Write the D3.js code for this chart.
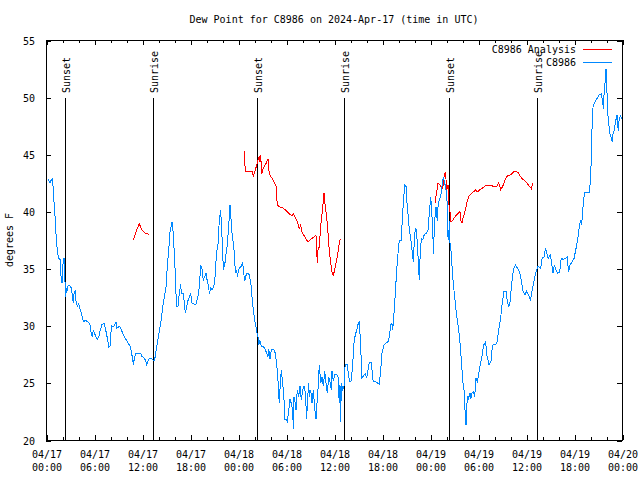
<!DOCTYPE html>
<html><head><meta charset="utf-8">
<script src="https://cdn.jsdelivr.net/npm/d3@7"></script>
<style>
body{margin:0;background:#fff}
svg{display:block}
text{font-family:"DejaVu Sans Mono","Liberation Mono",monospace;font-size:10px;fill:#000}
</style>
</head><body><svg id="c" width="640" height="480"></svg>
<script>
// hours since 2024-04-17 00:00 UTC
const obsHours = [0.25,0.5,0.62,0.84,0.91,1.09,1.21,1.34,1.46,1.59,1.75,1.88,2.0,2.09,2.25,2.34,2.41,2.5,2.59,2.75,3.0,3.16,3.34,3.41,3.5,3.66,3.75,3.91,4.09,4.25,4.41,4.59,4.75,4.91,5.09,5.34,5.5,5.66,5.79,5.91,6.09,6.25,6.41,6.59,6.75,7.0,7.25,7.41,7.59,7.75,7.84,8.0,8.09,8.16,8.41,8.59,8.75,8.84,9.09,9.25,9.5,9.75,10.0,10.25,10.5,10.66,10.84,10.91,11.09,11.25,11.59,11.84,12.0,12.25,12.41,12.59,12.75,12.91,13.25,13.5,13.66,13.84,14.0,14.16,14.34,14.5,14.66,14.84,15.0,15.16,15.34,15.5,15.66,15.75,15.84,16.0,16.16,16.25,16.34,16.5,16.66,16.84,16.91,17.16,17.34,17.41,17.59,17.75,17.91,18.09,18.25,18.5,18.75,19.0,19.16,19.34,19.5,19.66,19.84,20.0,20.16,20.34,20.41,20.59,20.75,20.91,21.09,21.16,21.34,21.5,21.66,21.84,21.91,22.09,22.16,22.34,22.5,22.59,22.66,22.84,23.0,23.09,23.25,23.41,23.59,23.66,23.84,23.91,24.09,24.25,24.41,24.59,24.66,24.84,25.0,25.16,25.34,25.5,25.66,25.75,25.91,26.09,26.25,26.34,26.5,26.59,26.75,26.91,27.16,27.34,27.59,27.75,27.84,28.0,28.16,28.34,28.5,28.66,28.84,29.0,29.16,29.25,29.41,29.59,29.75,29.84,30.09,30.16,30.34,30.5,30.66,30.84,30.91,31.0,31.16,31.25,31.41,31.59,31.75,31.91,32.09,32.25,32.41,32.59,32.66,32.84,32.91,33.09,33.25,33.41,33.59,33.75,33.84,34.0,34.16,34.34,34.5,34.66,34.84,35.0,35.16,35.34,35.5,35.66,35.75,35.91,36.09,36.34,36.5,36.66,36.75,36.84,36.91,37.09,37.25,37.34,37.41,37.66,37.84,38.0,38.16,38.34,38.5,38.66,38.84,39.0,39.16,39.25,39.41,39.5,39.75,39.91,40.09,40.25,40.41,40.66,40.84,40.91,41.16,41.41,41.66,41.84,42.0,42.25,42.5,42.75,42.91,43.09,43.25,43.34,43.5,43.66,43.84,44.0,44.09,44.25,44.41,44.5,44.66,44.84,45.0,45.09,45.25,45.41,45.59,45.75,45.91,46.09,46.25,46.41,46.59,46.66,46.75,46.91,47.09,47.25,47.41,47.59,47.75,47.91,48.09,48.25,48.34,48.41,48.59,48.75,48.91,49.0,49.16,49.34,49.5,49.66,49.84,50.0,50.16,50.25,50.34,50.41,50.5,50.59,50.75,50.91,51.09,51.25,51.41,51.59,51.75,51.91,52.09,52.25,52.41,52.5,52.59,52.66,52.75,53.0,53.09,53.25,53.41,53.59,53.75,53.91,54.09,54.28,54.52,54.7,54.95,55.12,55.38,55.64,55.8,56.24,56.4,56.58,56.82,57.0,57.25,57.5,57.68,57.85,58.01,58.19,58.44,58.7,58.95,59.21,59.38,59.64,59.89,60.06,60.31,60.56,60.74,60.99,61.25,61.5,61.84,62.01,62.26,62.44,62.61,62.78,63.04,63.2,63.38,63.55,63.71,63.98,64.22,64.4,64.65,64.9,65.16,65.32,65.5,65.75,66.01,66.18,66.35,66.52,66.69,66.86,66.95,67.12,67.29,67.55,67.96,68.14,68.22,68.39,68.65,68.9,69.16,69.41,69.59,69.66,69.75,69.92,70.0,70.09,70.18,70.35,70.51,70.69,70.78,70.86,71.02,71.2,71.38,71.54,71.62,71.79,71.96];
const obsValues = [42.8,42.5,42.7,42.9,41.6,40.1,38.4,37.2,36.3,35.9,35.8,34.3,33.7,35.2,35.9,35.2,32.5,33.3,32.9,33.5,33.5,33.3,32.4,32.0,32.8,33.1,32.2,31.7,31.9,31.5,31.1,30.6,30.3,30.5,30.4,30.3,30.1,29.3,29.0,29.6,29.3,29.0,28.8,29.0,29.5,30.1,30.2,29.8,29.2,28.6,28.1,28.2,28.8,30.0,29.9,30.1,30.3,29.8,29.9,29.9,29.5,29.1,28.8,28.5,28.2,27.8,27.0,26.6,27.3,27.6,27.6,27.6,27.3,27.2,27.0,26.6,26.9,27.1,27.1,26.9,27.3,28.2,28.8,29.5,30.2,31.1,32.0,32.7,33.4,35.2,36.6,38.2,38.8,39.1,38.7,36.8,34.6,32.8,31.7,31.7,32.8,33.6,32.8,32.8,31.7,31.1,31.7,32.2,32.5,32.8,32.0,31.9,31.9,32.6,33.4,35.3,35.0,34.0,34.3,34.6,33.9,33.4,32.8,33.3,33.1,33.4,33.7,34.7,36.5,37.1,39.2,40.1,39.0,36.6,34.9,35.3,36.3,36.6,37.2,38.7,40.6,39.7,38.1,37.2,36.0,34.6,34.9,34.3,34.9,35.1,35.2,35.6,34.9,33.9,34.4,34.6,34.6,34.1,33.4,32.5,31.4,30.5,29.9,29.5,29.0,28.3,28.7,28.2,28.2,28.0,27.6,27.3,28.0,27.1,27.9,27.9,27.9,27.6,26.6,25.2,23.2,24.4,26.1,25.0,23.5,21.8,21.8,21.5,22.6,23.6,23.2,22.6,21.0,23.8,23.2,22.6,24.4,23.8,24.7,23.5,24.4,24.7,24.2,21.8,23.2,25.0,23.8,24.4,23.2,24.4,22.8,21.8,22.9,24.4,26.6,25.0,25.5,24.7,26.0,25.0,24.1,25.5,25.1,24.4,26.0,25.2,25.7,25.7,25.5,23.2,24.8,21.6,25.0,24.4,24.7,26.1,26.6,26.6,25.5,25.1,25.2,26.7,28.5,29.2,29.6,30.1,30.4,29.3,27.0,25.4,25.7,25.8,25.4,26.1,26.8,26.8,25.5,25.1,25.1,25.0,24.9,26.1,27.6,28.3,28.5,28.6,29.0,30.1,30.2,29.6,31.1,32.8,34.9,36.3,37.2,37.5,37.5,38.8,40.7,42.3,42.2,41.0,39.8,38.4,37.6,36.6,35.6,38.1,38.5,37.4,34.9,34.0,35.8,37.6,37.5,37.9,38.1,38.1,38.4,39.8,41.3,39.5,39.1,36.3,39.2,40.4,39.2,40.4,41.0,41.3,42.2,43.0,42.5,41.9,40.7,37.8,37.5,39.2,37.2,36.9,35.2,33.7,32.5,31.4,30.5,29.6,28.5,27.0,25.2,24.4,22.2,21.3,22.6,23.8,23.5,24.1,23.6,24.1,24.2,23.8,25.4,25.1,25.8,26.6,27.4,28.3,28.6,27.4,26.6,26.9,28.3,28.4,28.6,29.6,30.6,31.8,33.0,33.0,32.1,31.7,32.1,33.6,35.0,35.3,35.0,34.7,34.1,33.0,32.7,33.0,32.7,32.2,33.0,33.9,34.7,35.2,35.0,35.9,36.0,36.8,36.3,35.9,36.2,35.5,34.6,35.3,34.9,34.6,34.7,35.9,35.8,35.9,36.0,34.7,35.3,35.6,35.9,36.5,37.1,37.8,38.8,39.2,38.8,40.3,41.6,41.7,41.7,44.1,46.7,49.3,49.6,49.9,50.2,50.3,49.6,49.0,50.2,51.6,52.5,51.4,48.9,47.6,46.7,46.4,46.1,46.7,47.1,47.9,48.4,47.0,47.9,48.4,48.1];
// analysis series, null = gap
const anaHours = [10.91,11.34,11.66,12.0,12.41,12.91,null,24.79,24.91,25.75,25.91,26.16,26.5,26.66,26.75,26.84,26.96,27.16,27.5,27.75,27.91,28.16,28.5,28.75,28.91,29.16,29.59,30.0,30.41,30.75,30.91,31.16,31.41,31.66,31.84,32.0,32.25,32.5,32.75,33.0,33.34,33.75,33.91,34.0,34.16,34.34,34.59,34.75,34.91,35.09,35.25,35.41,35.59,35.75,35.91,36.09,36.25,36.41,36.59,36.75,36.91,null,48.66,48.75,49.0,49.25,49.59,49.75,49.91,50.0,50.09,50.25,50.34,50.5,50.59,50.84,51.09,51.34,51.59,51.75,51.84,52.0,52.16,52.41,52.66,52.84,53.09,53.41,53.75,53.91,54.25,54.66,55.0,55.5,55.91,56.34,56.59,56.84,57.09,57.41,57.66,58.0,58.25,58.5,58.75,59.0,59.25,59.59,59.84,60.09,60.41,60.66,60.84];
const anaValues = [37.5,38.4,38.9,38.4,38.1,38.0,null,45.3,43.5,43.5,43.1,43.6,44.5,44.8,44.3,44.9,43.3,43.8,44.2,44.6,43.3,43.0,42.6,42.2,40.6,40.4,40.3,40.1,39.8,39.6,39.8,39.5,39.1,38.5,38.8,38.2,37.9,37.6,37.3,37.5,37.7,37.9,35.5,36.6,36.9,38.7,40.4,41.6,40.4,39.5,38.1,36.6,35.5,34.7,34.4,34.9,35.5,36.0,36.9,37.5,37.6,null,40.7,41.3,42.5,42.3,42.0,43.0,43.4,42.8,41.9,42.3,40.7,40.0,39.1,39.2,39.5,39.7,39.9,40.0,39.2,39.0,39.5,40.1,40.9,41.3,41.5,41.7,41.9,41.7,41.9,42.1,42.3,42.3,42.2,42.2,42.5,41.9,42.2,42.8,43.1,43.2,43.3,43.5,43.5,43.4,43.1,42.8,42.7,42.5,42.2,42.0,42.5];
const sunsetHours = [2.42, 26.42, 50.42];
const sunriseHours = [13.4, 37.3, 61.4];
const xTickHours = [0,6,12,18,24,30,36,42,48,54,60,66,72];
const xTickDates = ["04/17","04/17","04/17","04/17","04/18","04/18","04/18","04/18","04/19","04/19","04/19","04/19","04/20"];
const xTickTimes = ["00:00","06:00","12:00","18:00","00:00","06:00","12:00","18:00","00:00","06:00","12:00","18:00","00:00"];
const xMinorHours = d3.range(0, 73, 2).filter(h => h % 6 !== 0);
const yTicks = [20,25,30,35,40,45,50,55];
const titleText = "Dew Point for C8986 on 2024-Apr-17 (time in UTC)";
const seriesNames = ["C8986 Analysis", "C8986"];
const seriesColors = ["#ff0000", "#0088ff"];

const L = 46, R = 622, T = 40, B = 440;
const svg = d3.select("#c");
const x = d3.scaleLinear().domain([0, 72]).range([L, R]);
const y = d3.scaleLinear().domain([20, 55]).range([B, T]);

function styleAxis(g){ g.select(".domain").remove(); g.selectAll("line").attr("stroke","#000").attr("shape-rendering","crispEdges"); }
svg.append("g").attr("transform",`translate(0.5,${B})`)
  .call(d3.axisBottom(x).tickValues(xMinorHours).tickSize(-3).tickFormat("")).call(styleAxis);
svg.append("g").attr("transform",`translate(0.5,${T})`)
  .call(d3.axisTop(x).tickValues(xMinorHours).tickSize(-3).tickFormat("")).call(styleAxis);
svg.append("g").attr("transform",`translate(0.5,${T})`)
  .call(d3.axisTop(x).tickValues(xTickHours).tickSize(-5).tickFormat("")).call(styleAxis);
const xb = svg.append("g").attr("transform",`translate(0.5,${B})`)
  .call(d3.axisBottom(x).tickValues(xTickHours).tickSize(-5).tickFormat("")).call(styleAxis);
xb.selectAll(".tick").each(function(d,i){
  const t = d3.select(this).append("text").attr("text-anchor","middle").attr("fill","#000");
  t.append("tspan").attr("x",0).attr("y",18).text(xTickDates[i]);
  t.append("tspan").attr("x",0).attr("y",31).text(xTickTimes[i]);
});
svg.append("g").attr("transform",`translate(${L},0.5)`)
  .call(d3.axisLeft(y).tickValues(yTicks).tickSize(-5).tickPadding(11).tickFormat(d3.format("d"))).call(styleAxis)
  .selectAll("text").attr("fill","#000").attr("font-size","10px").attr("font-family","DejaVu Sans Mono").attr("dy","0.35em");
svg.append("g").attr("transform",`translate(${R},0.5)`)
  .call(d3.axisRight(y).tickValues(yTicks).tickSize(-5).tickFormat("")).call(styleAxis);

svg.append("rect").attr("x",L+0.5).attr("y",T+0.5).attr("width",R-L).attr("height",B-T)
  .attr("fill","none").attr("stroke","#000").attr("shape-rendering","crispEdges");

const markers = sunsetHours.map(h=>({h,label:"Sunset"})).concat(sunriseHours.map(h=>({h,label:"Sunrise"})));
markers.forEach(m=>{
  const px = Math.round(x(m.h)) + 0.5;
  svg.append("line").attr("x1",px).attr("x2",px).attr("y1",98).attr("y2",B)
    .attr("stroke","#000").attr("shape-rendering","crispEdges");
  svg.append("text").attr("transform",`translate(${px+4},93) rotate(-90)`).attr("text-anchor","start").text(m.label);
});

const lineGen = d3.line().defined(d=>d[0]!==null && d[1]!==null).x(d=>x(d[0])).y(d=>y(d[1]));
svg.append("path").datum(anaHours.map((h,i)=>[h,anaValues[i]]))
  .attr("d",lineGen).attr("fill","none").attr("stroke",seriesColors[0]).attr("stroke-width",1)
  .attr("shape-rendering","crispEdges");
svg.append("path").datum(obsHours.map((h,i)=>[h,obsValues[i]]))
  .attr("d",lineGen).attr("fill","none").attr("stroke",seriesColors[1]).attr("stroke-width",1)
  .attr("shape-rendering","crispEdges");

seriesNames.forEach((name,i)=>{
  const ly = 49 + i*13;
  svg.append("text").attr("x",576).attr("y",ly+3.5).attr("text-anchor","end").text(name);
  svg.append("line").attr("x1",583).attr("x2",612).attr("y1",ly+0.5).attr("y2",ly+0.5)
    .attr("stroke",seriesColors[i]).attr("shape-rendering","crispEdges");
});

svg.append("text").attr("x",(L+R)/2).attr("y",23).attr("text-anchor","middle").text(titleText);
svg.append("text").attr("transform","translate(13,240) rotate(-90)").attr("text-anchor","middle").text("degrees F");
</script>
</body></html>
